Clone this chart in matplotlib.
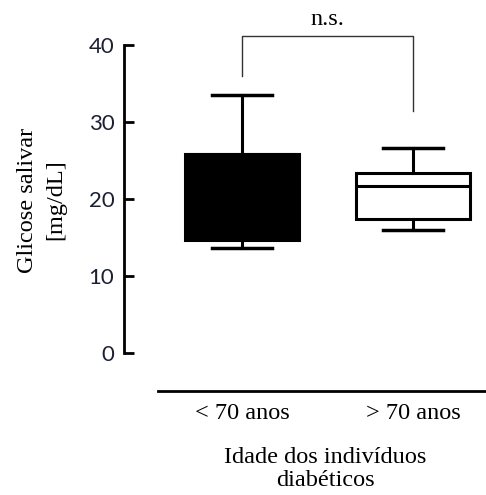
import matplotlib
matplotlib.use("Agg")
import matplotlib.pyplot as plt

# box statistics (mg/dL)
groups = ["< 70 anos", "> 70 anos"]
whisker_low = [13.6, 16.0]
q1 = [14.7, 17.4]
median = [25.8, 21.7]   # first box is solid black, median hidden at the top
q3 = [25.8, 23.4]
whisker_high = [33.5, 26.6]
box_colors = ["black", "white"]

y_ticks = [0, 10, 20, 30, 40]
bracket_y = 41.2
bracket_feet = [36.0, 31.4]
sig_label = "n.s."

W, H = 486, 495
fig = plt.figure(figsize=(W / 100, H / 100), dpi=100)
# axes placed in pixels: left spine at x=124, y=0 at 353 px, y=40 at 45 px
ax = fig.add_axes([124 / W, (H - 400) / H, (W - 124) / W, (400 - 5) / H])
px_per_unit = (353 - 45) / 40
ymin = -(400 - 353) / px_per_unit
ymax = 40 + (45 - 5) / px_per_unit
ax.set_ylim(ymin, ymax)
xscale = 171.0
ax.set_xlim(1 - (242 - 124) / xscale, 2 + (W - 413) / xscale)

stats = []
for i in range(len(groups)):
    stats.append({"whislo": whisker_low[i], "q1": q1[i], "med": median[i],
                  "q3": q3[i], "whishi": whisker_high[i], "fliers": []})
bp = ax.bxp(stats, positions=[1, 2], widths=0.67, patch_artist=True,
            showfliers=False, manage_ticks=False,
            boxprops=dict(linewidth=2.2, edgecolor="black"),
            whiskerprops=dict(linewidth=2.2, color="black"),
            capprops=dict(linewidth=2.5, color="black"),
            medianprops=dict(linewidth=2.2, color="black"),
            capwidths=0.35)
for patch, c in zip(bp["boxes"], box_colors):
    patch.set_facecolor(c)

# significance bracket
ax.plot([1, 1, 2, 2], [bracket_feet[0], bracket_y, bracket_y, bracket_feet[1]],
        color="#333333", linewidth=1.0)
ax.text(1.5, bracket_y + 1.45, sig_label, ha="center", va="baseline",
        fontsize=17.5, family="Liberation Serif")

# y axis
for s in ["top", "right", "bottom"]:
    ax.spines[s].set_visible(False)
ax.spines["left"].set_bounds(0, 40)
ax.spines["left"].set_linewidth(2.0)
ax.set_yticks(y_ticks)
ax.set_yticklabels([str(t) for t in y_ticks], fontsize=16, color="#1c2033",
                   family="Lato")
ax.tick_params(axis="y", direction="in", length=7, width=2.0, pad=7)
ax.set_xticks([])

# bottom category line and labels
base_y = -(391 - 353) / px_per_unit
ax.plot([1 - (242 - 158) / xscale, ax.get_xlim()[1]], [base_y, base_y],
        color="black", linewidth=2.0, clip_on=False)
for i, g in enumerate(groups):
    ax.text(i + 1, base_y - 1.6, g, ha="center", va="top", fontsize=17.5,
            family="Liberation Serif", clip_on=False)

fig.text(325 / W, 1 - 469 / H, "Idade dos indivíduos\ndiabéticos", ha="center",
         va="center", fontsize=17.5, family="Liberation Serif", linespacing=1.15)
fig.text(42 / W, 1 - 200 / H, "Glicose salivar\n[mg/dL]", ha="center",
         va="center", rotation=90, fontsize=17.5, family="Liberation Serif",
         linespacing=1.45)

fig.savefig("out.png", dpi=100)
